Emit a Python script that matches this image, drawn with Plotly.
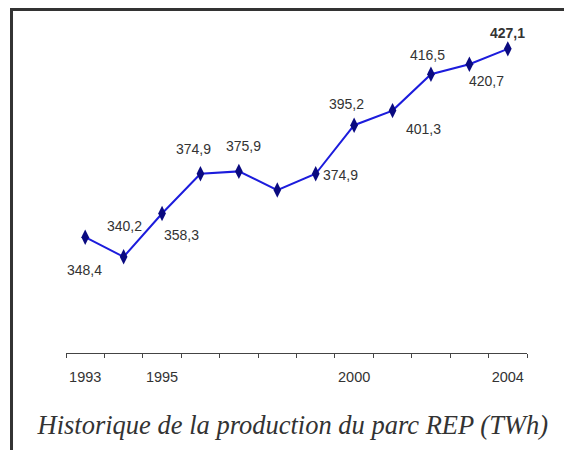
import plotly.graph_objects as go

years = [1993, 1994, 1995, 1996, 1997, 1998, 1999, 2000, 2001, 2002, 2003, 2004]
values = [348.4, 340.2, 358.3, 374.9, 375.9, 368.1, 374.9, 395.2, 401.3, 416.5, 420.7, 427.1]
labels = ["348,4", "340,2", "358,3", "374,9", "375,9", "", "374,9", "395,2", "401,3", "416,5", "420,7", "427,1"]
tick_years = [1993, 1995, 2000, 2004]
tick_text = ["1993", "1995", "2000", "2004"]
title_text = "Historique de la production du parc REP (TWh)"

# label offsets in pixels (style)
xshifts = [-1, 1, 19, -7, 5, 0, 25, -8, 31, -3, 17, 0]
yshifts = [-33, 31, -21, 25, 25, 0, -1, 21, -18, 19, -17, 16]

fig = go.Figure()
fig.add_trace(go.Scatter(
    x=years, y=values, mode="lines+markers",
    line=dict(color="#1c1cdc", width=2),
    marker=dict(symbol="diamond-tall", size=11, color="#0a0a80"),
    hoverinfo="skip",
))

for i, (x, y, t) in enumerate(zip(years, values, labels)):
    if not t:
        continue
    bold = i == len(years) - 1
    fig.add_annotation(
        x=x, y=y, text=f"<b>{t}</b>" if bold else t, showarrow=False,
        xshift=xshifts[i], yshift=yshifts[i],
        font=dict(family="Liberation Sans, Arial, sans-serif", size=14, color="#333"),
    )

boundaries = [y - 0.5 for y in years] + [years[-1] + 0.5]

fig.update_xaxes(
    range=[years[0] - 0.5, years[-1] + 0.5],
    tickmode="array", tickvals=tick_years, ticktext=tick_text,
    ticks="", showgrid=False, zeroline=False,
    showline=True, linecolor="#444", linewidth=1,
    ticklabelstandoff=11,
    tickfont=dict(family="Liberation Sans, Arial, sans-serif", size=14.5, color="#333"),
    minor=dict(tickmode="array", tickvals=boundaries, ticks="outside",
               ticklen=4, tickwidth=1, tickcolor="#444", showgrid=False),
)
fig.update_yaxes(visible=False, range=[300, 440])

# frame: left and top borders
fig.add_shape(type="path", xref="paper", yref="paper",
              path="M -0.1182 -0.35 L -0.1182 1.0254 L 1.2 1.0254",
              line=dict(color="#333", width=3))

fig.update_layout(
    width=564, height=442,
    margin=dict(l=58, r=45, t=10, b=97),
    paper_bgcolor="white", plot_bgcolor="white",
    showlegend=False,
    title=dict(text=title_text, x=0.505, xref="container", xanchor="center",
               y=0.057, yref="container", yanchor="middle",
               font=dict(family="Liberation Serif, Times New Roman, serif", size=26.5,
                         color="#333", style="italic")),
)

fig.write_html("out.html")
